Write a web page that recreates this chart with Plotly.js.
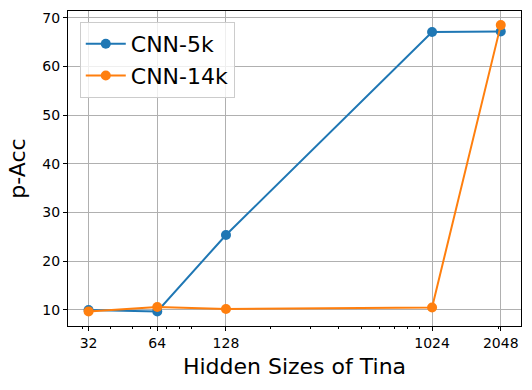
<!DOCTYPE html>
<html>
<head>
<meta charset="utf-8">
<script src="https://cdn.plot.ly/plotly-3.0.1.min.js"></script>
<style>
  body { margin: 0; background: #fff; }
  #chart { width: 532px; height: 390px; }
</style>
</head>
<body>
<div id="chart"></div>
<script>
// hidden sizes on a log axis
var hiddenSizes = [32, 64, 128, 1024, 2048];
var tickLabels = ['32', '64', '128', '1024', '2048'];

var cnn5k = [10.0, 9.7, 25.4, 67.1, 67.2];
var cnn14k = [9.7, 10.6, 10.2, 10.5, 68.5];

var minorTicks = [30, 40, 50, 60, 70, 80, 90, 200, 300, 400, 500, 600, 700, 800, 900, 2000];

var trace1 = {
    x: hiddenSizes,
    y: cnn5k,
    name: 'CNN-5k',
    type: 'scatter',
    mode: 'lines+markers',
    line: {color: '#1f77b4', width: 2},
    marker: {color: '#1f77b4', size: 10}
};

var trace2 = {
    x: hiddenSizes,
    y: cnn14k,
    name: 'CNN-14k',
    type: 'scatter',
    mode: 'lines+markers',
    line: {color: '#ff7f0e', width: 2},
    marker: {color: '#ff7f0e', size: 10}
};

var layout = {
    width: 532,
    height: 390,
    margin: {l: 68, r: 11, t: 11, b: 64},
    paper_bgcolor: '#fff',
    plot_bgcolor: '#fff',
    font: {family: 'DejaVu Sans', color: '#000'},
    showlegend: true,
    legend: {
        x: 0.026, y: 0.965,
        xanchor: 'left', yanchor: 'top',
        bgcolor: 'rgba(255,255,255,0.8)',
        bordercolor: '#cccccc',
        borderwidth: 1,
        font: {size: 22, color: '#000'},
        itemwidth: 40
    },
    xaxis: {
        type: 'log',
        range: [1.415, 3.400],
        tickmode: 'array',
        tickvals: hiddenSizes,
        ticktext: tickLabels,
        ticks: 'outside',
        ticklen: 4,
        tickcolor: '#000',
        tickfont: {size: 14},
        showgrid: true,
        gridcolor: '#b0b0b0',
        gridwidth: 1,
        showline: true,
        mirror: true,
        linecolor: '#000',
        linewidth: 1,
        zeroline: false,
        minor: {
            tickmode: 'array',
            tickvals: minorTicks,
            ticks: 'outside',
            ticklen: 2,
            tickcolor: '#000',
            showgrid: false
        },
        title: {text: 'Hidden Sizes of Tina', font: {size: 22}, standoff: 8}
    },
    yaxis: {
        range: [6.7, 71.4],
        tickmode: 'array',
        tickvals: [10, 20, 30, 40, 50, 60, 70],
        ticks: 'outside',
        ticklen: 4,
        tickcolor: '#000',
        tickfont: {size: 14},
        showgrid: true,
        gridcolor: '#b0b0b0',
        gridwidth: 1,
        showline: true,
        mirror: true,
        linecolor: '#000',
        linewidth: 1,
        zeroline: false,
        title: {text: 'p-Acc', font: {size: 22}, standoff: 10}
    }
};

Plotly.newPlot('chart', [trace1, trace2], layout, {staticPlot: true});
</script>
</body>
</html>
